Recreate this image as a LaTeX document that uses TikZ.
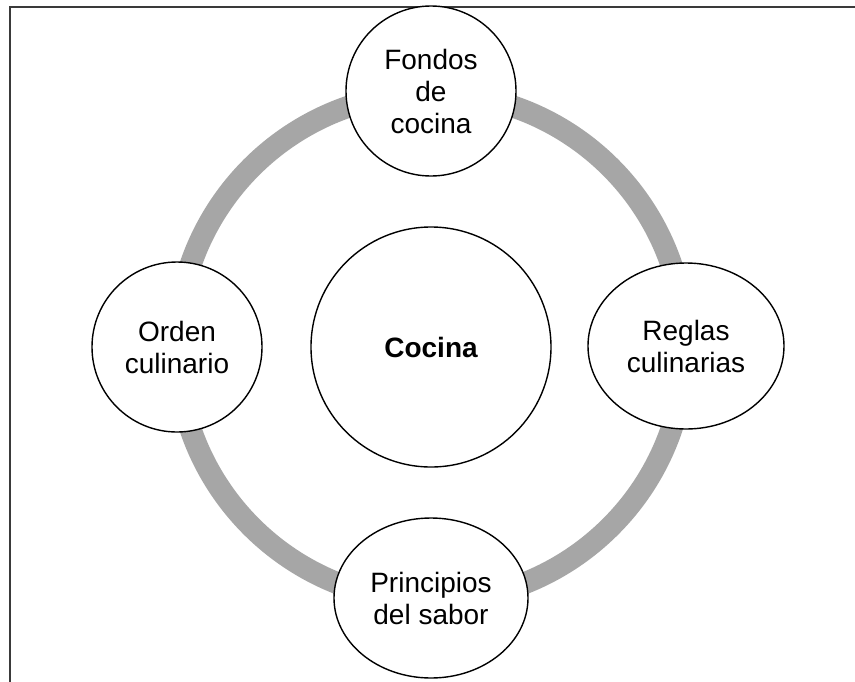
\documentclass[tikz,border=0pt]{standalone}
\usepackage{fontspec}
\usetikzlibrary{shapes.geometric}
\setmainfont{Liberation Sans}
\definecolor{ringgray}{HTML}{A6A6A6}
\definecolor{framegray}{HTML}{3A3A3A}
\tikzset{
  ring/.style={draw=ringgray, line width=22pt},
  cyclenode/.style={ellipse, draw=black, line width=1.4pt, fill=white, inner sep=0pt, align=center, font=\fontsize{28}{32}\selectfont},
  hubnode/.style={circle, draw=black, line width=1.4pt, fill=white, minimum size=240pt, inner sep=0pt, align=center, font=\fontsize{28}{32}\selectfont\bfseries},
  frame/.style={draw=framegray, line width=2pt}
}
\begin{document}
\begin{tikzpicture}[x=1pt, y=-1pt]
\useasboundingbox (0,0) rectangle (855,681);
\clip (0,0) rectangle (855,681);
\fill[white] (0,0) rectangle (855,681);
\draw[frame] (10,7) rectangle (900,720);
\node[hubnode] (hub) at (431,347) {Cocina};
\draw[ring] (hub.center) circle (254pt);
\node[cyclenode, minimum width=170pt, minimum height=170pt] (fondos) at (431,91) {Fondos\\de\\cocina};
\node[cyclenode, minimum width=196pt, minimum height=166pt] (reglas) at (686,346) {Reglas\\culinarias};
\node[cyclenode, minimum width=194pt, minimum height=160pt] (principios) at (431,598) {Principios\\del sabor};
\node[cyclenode, minimum width=170pt, minimum height=170pt] (orden) at (177,347) {Orden\\culinario};
\end{tikzpicture}
\end{document}
